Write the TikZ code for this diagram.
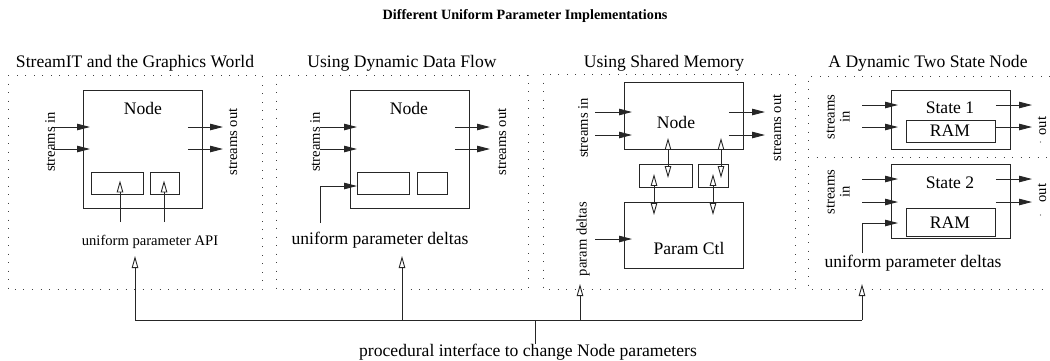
\documentclass[tikz,border=0pt]{standalone}
\usepackage{fontspec}
\setmainfont{Liberation Serif}
\usetikzlibrary{arrows.meta,calc}
\begin{document}
\begin{tikzpicture}[x=1pt,y=-1pt,
  ln/.style={line width=0.9pt, draw=black!85},
  blk/.style={draw=black!85, line width=0.9pt, inner sep=0pt, anchor=north west},
  dots/.style={line width=1pt, draw=black!75, dash pattern=on 0.9pt off 7.6pt},
  big/.style={font=\fontsize{17.6}{20}\selectfont, inner sep=0pt},
  sml/.style={font=\fontsize{14.6}{15}\selectfont, inner sep=0pt},
  ttl/.style={font=\fontsize{14.2}{17}\selectfont\bfseries, inner sep=0pt},
  fa/.style={ln, -{Triangle[length=13pt,width=6.5pt]}},
  oa/.style={ln, -{Triangle[open,length=12pt,width=6.5pt]}},
  da/.style={ln, {Triangle[open,length=12pt,width=6.5pt]}-{Triangle[open,length=12pt,width=6.5pt]}}
]
\useasboundingbox (0,0) rectangle (1050,360);

\node[ttl] (title) at (525,16) {Different Uniform Parameter Implementations};

% ---------- panel 1 : StreamIT ----------
\draw[dots] (8,75) rectangle (262,289);
\node[big] (t1) at (135,63) {StreamIT and the Graphics World};
\node[blk, minimum width=119pt, minimum height=118pt] (n1) at (83,90) {};
\node[big] (n1l) at (143,108) {Node};
\node[blk, minimum width=52pt, minimum height=22pt] (p1a) at (91,172) {};
\node[blk, minimum width=29pt, minimum height=22pt] (p1b) at (150,172) {};
\coordinate (i1a) at (53,127);
\coordinate (i1b) at (53,149);
\draw[fa] (i1a) -- ([xshift=7pt]i1a -| n1.west);
\draw[fa] (i1b) -- ([xshift=7pt]i1b -| n1.west);
\node[sml, rotate=90] (s1i) at (50,142) {streams in};
\coordinate (o1a) at (223,127);
\coordinate (o1b) at (223,149);
\draw[fa] ([xshift=-15pt]o1a -| n1.east) -- (o1a);
\draw[fa] ([xshift=-15pt]o1b -| n1.east) -- (o1b);
\node[sml, rotate=90] (s1o) at (233,142) {streams out};
\node[sml] (api) at (150,242) {uniform parameter API};
\coordinate (a1) at (120,222);
\coordinate (a2) at (164,222);
\draw[oa] (a1) -- ([yshift=3pt]a1 |- p1a.center);
\draw[oa] (a2) -- ([yshift=3pt]a2 |- p1b.center);

% ---------- panel 2 : dynamic data flow ----------
\draw[dots] (276,75) rectangle (528,289);
\node[big] (t2) at (402,63) {Using Dynamic Data Flow};
\node[blk, minimum width=119pt, minimum height=118pt] (n2) at (350,90) {};
\node[big] (n2l) at (409,108) {Node};
\node[blk, minimum width=52pt, minimum height=22pt] (p2a) at (357,172) {};
\node[blk, minimum width=30pt, minimum height=22pt] (p2b) at (417,172) {};
\coordinate (i2a) at (320,127);
\coordinate (i2b) at (320,149);
\draw[fa] (i2a) -- ([xshift=7pt]i2a -| n2.west);
\draw[fa] (i2b) -- ([xshift=7pt]i2b -| n2.west);
\node[sml, rotate=90] (s2i) at (315,142) {streams in};
\coordinate (o2a) at (490,127);
\coordinate (o2b) at (490,149);
\draw[fa] ([xshift=-15pt]o2a -| n2.east) -- (o2a);
\draw[fa] ([xshift=-15pt]o2b -| n2.east) -- (o2b);
\node[sml, rotate=90] (s2o) at (502,142) {streams out};
\node[big] (d2) at (380,240) {uniform parameter deltas};
\coordinate (d2s) at (320,223);
\coordinate (d2t) at (357,186);
\draw[fa] (d2s) |- (d2t);

% ---------- panel 3 : shared memory ----------
\draw[dots] (543,74) rectangle (795,289);
\node[big] (t3) at (664,63) {Using Shared Memory};
\node[blk, minimum width=119pt, minimum height=67pt] (n3) at (624,82) {};
\node[big] (n3l) at (676,122) {Node};
\node[blk, minimum width=53pt, minimum height=23pt] (m3a) at (639,164) {};
\node[blk, minimum width=30pt, minimum height=23pt] (m3b) at (698,164) {};
\node[blk, minimum width=119pt, minimum height=66pt] (pc) at (624,202) {};
\node[big] (pcl) at (689,248) {Param Ctl};
\coordinate (i3a) at (595,112);
\coordinate (i3b) at (595,135);
\draw[fa] (i3a) -- ([xshift=8pt]i3a -| n3.west);
\draw[fa] (i3b) -- ([xshift=8pt]i3b -| n3.west);
\node[sml, rotate=90] (s3i) at (583,128) {streams in};
\coordinate (o3a) at (765,112);
\coordinate (o3b) at (765,135);
\draw[fa] ([xshift=-15pt]o3a -| n3.east) -- (o3a);
\draw[fa] ([xshift=-15pt]o3b -| n3.east) -- (o3b);
\node[sml, rotate=90] (s3o) at (777,128) {streams out};
\coordinate (x1) at (668,0);
\coordinate (x2) at (721,0);
\coordinate (x3) at (654,0);
\coordinate (x4) at (713,0);
\draw[da] ([yshift=12pt]x1 |- n3.south) -- ([yshift=-14pt]x1 |- m3a.north);
\draw[da] ([yshift=12pt]x2 |- n3.south) -- ([yshift=-14pt]x2 |- m3b.north);
\draw[da] ([yshift=14pt]x3 |- m3a.south) -- ([yshift=-13pt]x3 |- pc.north);
\draw[da] ([yshift=14pt]x4 |- m3b.south) -- ([yshift=-13pt]x4 |- pc.north);
\node[sml, rotate=90] (pd) at (583,239) {param deltas};
\coordinate (i3c) at (595,239);
\draw[fa] (i3c) -- ([xshift=8pt]i3c -| pc.west);

% ---------- panel 4 : two state node ----------
\draw[dots] (1050,76) -- (808,76) -- (808,289) -- (1050,289);
\draw[dots] (808,157) -- (1050,157);
\node[big] (t4) at (928,63) {A Dynamic Two State Node};
% state 1
\node[blk, minimum width=119pt, minimum height=59pt] (st1) at (891,90) {};
\node[big] (st1l) at (950,108) {State 1};
\node[blk, minimum width=89pt, minimum height=22pt] (r1) at (906,120) {};
\node[big] (r1l) at (950,131) {RAM};
\coordinate (i4a) at (862,105);
\coordinate (i4b) at (862,127);
\draw[fa] (i4a) -- ([xshift=7pt]i4a -| st1.west);
\draw[fa] (i4b) -- ([xshift=7pt]i4b -| st1.west);
\node[sml, rotate=90, align=center] (s4i) at (838,117) {streams\\in};
\coordinate (o4a) at (1032,105);
\coordinate (o4b) at (1032,127);
\draw[fa] (o4a -| r1.east) -- (o4a);
\draw[fa] (o4b -| r1.east) -- (o4b);
\node[sml, rotate=90] (s4o) at (1042,126) {out};
\fill[black!70] (1040.5,142) circle (0.6);
% state 2
\node[blk, minimum width=119pt, minimum height=74pt] (st2) at (891,164) {};
\node[big] (st2l) at (950,183) {State 2};
\node[blk, minimum width=89pt, minimum height=28pt] (r2) at (906,208) {};
\node[big] (r2l) at (950,223) {RAM};
\coordinate (i4c) at (862,179);
\coordinate (i4d) at (862,202);
\draw[fa] (i4c) -- ([xshift=7pt]i4c -| st2.west);
\draw[fa] (i4d) -- ([xshift=7pt]i4d -| st2.west);
\node[sml, rotate=90, align=center] (s4j) at (838,192) {streams\\in};
\coordinate (o4c) at (1032,179);
\coordinate (o4d) at (1032,202);
\draw[fa] (o4c -| r2.east) -- (o4c);
\draw[fa] (o4d -| r2.east) -- (o4d);
\node[sml, rotate=90] (s4p) at (1042,193) {out};
\fill[black!70] (1040.5,215) circle (0.6);
\node[big] (d4) at (913,263) {uniform parameter deltas};
\coordinate (d4s) at (862,253);
\coordinate (d4t) at (898,223);
\draw[fa] (d4s) |- (d4t);

% ---------- common control bus ----------
\coordinate (b1) at (135,320);
\coordinate (b2) at (402,320);
\coordinate (b3) at (580,320);
\coordinate (b4) at (862,320);
\coordinate (bm) at (535,320);
\coordinate (e1) at (135,256);
\coordinate (e2) at (402,256);
\coordinate (e3) at (580,284);
\coordinate (e4) at (862,284);
\draw[ln] (b1) -- (b4);
\draw[oa] (b1) -- (e1);
\draw[oa] (b2) -- (e2);
\draw[oa] (b3) -- (e3);
\draw[oa] (b4) -- (e4);
\node[big] (proc) at (528,352) {procedural interface to change Node parameters};
\draw[ln] (bm) -- (proc.north -| bm);
\end{tikzpicture}
\end{document}
